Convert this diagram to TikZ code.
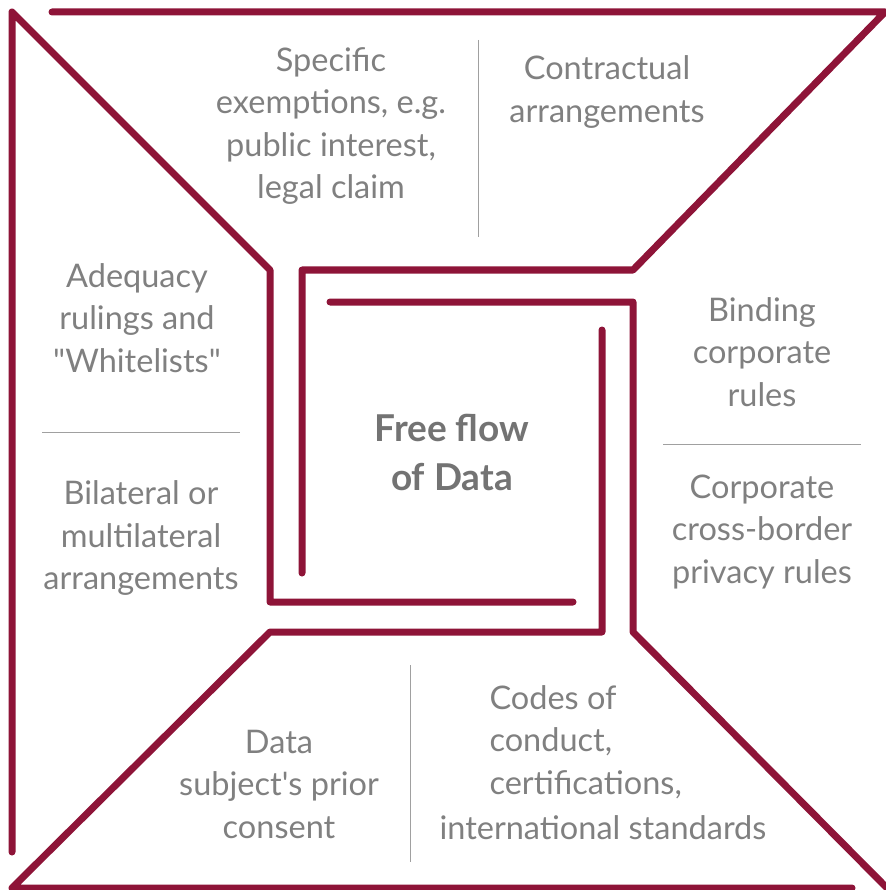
\documentclass[tikz,border=0pt]{standalone}
\usepackage{fontspec}
\setmainfont{Lato}
\usetikzlibrary{positioning}

\definecolor{wine}{HTML}{8E1438}
\definecolor{txtgray}{HTML}{808080}
\definecolor{rulegray}{HTML}{A0A0A0}

\begin{document}
\begin{tikzpicture}[x=1pt,y=-1pt,
    wall/.style={wine, line width=7pt, line cap=round, line join=round},
    sepline/.style={rulegray, line width=1pt},
    cell/.style={txtgray, align=center, font=\fontsize{32.5}{42.5}\selectfont},
    core/.style={txtgray!90!black, align=center, font=\bfseries\fontsize{37}{49}\selectfont}]
  \useasboundingbox (0,0) rectangle (885,890);

  % the four walls of the maze
  \draw[wall] (52,12) -- (885,12) -- (633,270) -- (302,270) -- (302,573);
  \draw[wall] (12,852) -- (12,12) -- (270,270) -- (270,602) -- (573,602);
  \draw[wall] (330,302) -- (633,302) -- (633,632) -- (887,888);
  \draw[wall] (602,330) -- (602,632) -- (270,632) -- (12,888) -- (852,888);

  % separators
  \draw[sepline] (478,40) -- (478,237);
  \draw[sepline] (42,432) -- (240,432);
  \draw[sepline] (663,444) -- (861,444);
  \draw[sepline] (410,665) -- (410,862);

  % texts
  \node[core] (center) at (452,452) {Free flow\\of Data};

  \node[cell] (exempt) at (331,126) {Specific\\exemptions, e.g.\\public interest,\\legal claim};
  \node[cell] (contract) at (607,92) {Contractual\\arrangements};
  \node[cell] (adequacy) at (137,318) {Adequacy\\rulings and\\\textquotedbl Whitelists\textquotedbl};
  \node[cell] (bilateral) at (141,538) {Bilateral or\\multilateral\\arrangements};
  \node[cell] (binding) at (762,352) {Binding\\corporate\\rules};
  \node[cell] (cbpr) at (762,532) {Corporate\\cross-border\\privacy rules};
  \node[cell] (consent) at (279,784) {Data\\subject\textquotesingle s prior\\consent};
  \node[cell, align=left, anchor=west] (codes) at (486,742) {Codes of\\conduct,\\certifications,};
  \node[cell, anchor=west] (intl) at (436,828) {international standards};
\end{tikzpicture}
\end{document}
